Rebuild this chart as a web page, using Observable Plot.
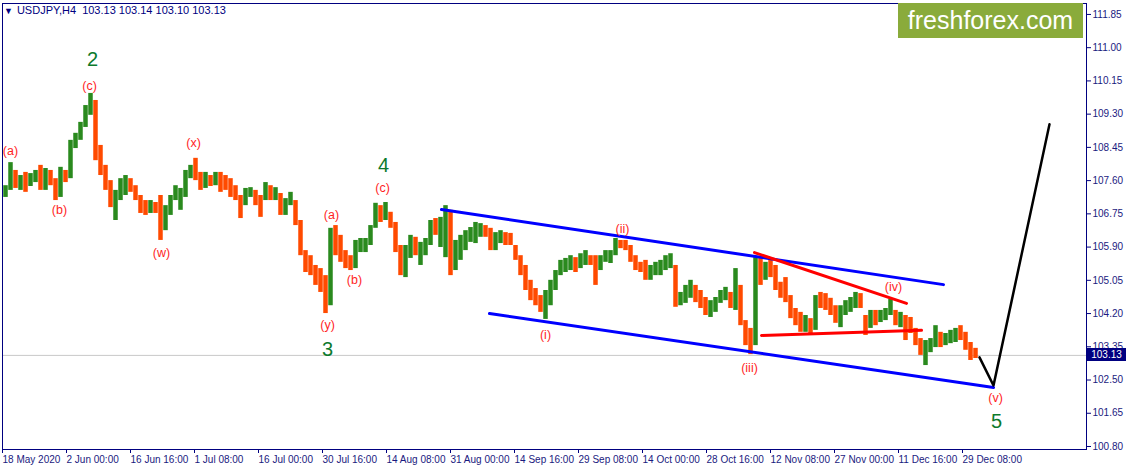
<!DOCTYPE html>
<html><head><meta charset="utf-8">
<script src="https://cdn.jsdelivr.net/npm/d3@7"></script>
<script src="https://cdn.jsdelivr.net/npm/@observablehq/plot@0.6"></script>
<style>
html,body{margin:0;padding:0;background:#fff;}
#wrap{position:relative;width:1126px;height:471px;overflow:hidden;font-family:"Liberation Sans",Arial,sans-serif;}
#hdr{position:absolute;left:4px;top:4px;font-size:11px;color:#000080;white-space:pre;}
#hdr .tri{font-size:9px;margin-right:4px;}
#logo{position:absolute;left:898px;top:3px;width:185px;height:35px;background:#8aab3b;color:#fff;font-size:25px;line-height:35px;text-align:center;}
#pbox{position:absolute;left:1087px;width:39px;height:13px;background:#000080;color:#fff;font-size:10px;line-height:13px;text-align:center;}
</style></head>
<body><div id="wrap"></div>
<script>
const symbolInfo = "USDJPY,H4  103.13 103.14 103.10 103.13";
const lastPrice = 103.13;
const firstOpen = 107.27;
const barsPerCandle = 5;
const highs = [107.47,108.06,107.86,107.73,107.81,107.78,107.86,107.99,107.91,107.86,107.65,107.94,107.86,108.63,108.81,109.09,109.52,109.83,109.65,108.50,107.99,107.60,107.35,107.65,107.73,107.65,107.47,107.22,107.09,107.09,107.04,107.22,106.96,107.22,107.47,107.40,107.86,107.99,108.17,107.81,107.81,107.73,107.81,107.81,107.73,107.65,107.47,107.22,107.40,107.42,107.35,107.22,107.55,107.47,107.42,107.27,107.14,107.30,107.09,106.58,105.81,105.68,105.43,105.35,105.17,106.38,106.45,106.20,105.81,105.68,106.07,106.12,106.12,106.45,107.02,106.96,107.04,106.79,106.53,105.94,105.94,106.20,106.15,106.02,106.12,106.58,106.63,106.66,106.96,106.84,106.07,106.20,106.32,106.40,106.53,106.50,106.45,106.38,106.27,106.32,106.27,106.25,105.94,105.68,105.43,105.05,104.84,104.66,104.79,105.05,105.30,105.56,105.61,105.68,105.63,105.73,105.81,105.68,105.68,105.68,105.81,105.81,106.12,106.07,106.07,105.94,105.68,105.51,105.56,105.43,105.51,105.56,105.68,105.73,105.43,104.74,104.92,105.05,104.92,104.79,104.61,104.53,104.61,104.79,104.87,104.74,105.35,104.92,104.02,103.82,105.63,105.61,105.51,105.56,105.43,105.00,105.12,104.66,104.33,104.23,104.15,104.07,104.66,104.74,104.71,104.59,104.40,104.40,104.53,104.61,104.74,104.71,104.15,104.28,104.28,104.28,104.33,104.56,104.28,104.23,104.15,104.10,103.82,103.56,103.51,103.56,103.89,103.72,103.69,103.77,103.82,103.89,103.72,103.46,103.31];
const lows = [107.17,107.35,107.40,107.35,107.30,107.45,107.55,107.35,107.35,107.47,107.09,107.17,107.55,107.65,108.42,108.63,108.96,109.27,108.11,107.73,107.35,106.91,106.58,107.09,107.22,107.30,107.09,106.76,106.71,106.76,106.76,106.07,106.32,106.71,107.09,106.84,107.17,107.65,107.60,107.35,107.40,107.45,107.47,107.30,107.35,107.17,107.09,106.63,106.96,107.17,106.96,106.66,107.09,107.09,107.09,106.71,106.71,106.96,106.45,105.68,105.25,105.17,104.92,104.74,104.20,104.40,105.68,105.51,105.35,105.30,105.35,105.76,105.76,105.94,106.38,106.53,106.58,106.38,105.76,105.17,105.12,105.61,105.68,105.43,105.68,105.94,106.20,105.89,105.63,105.17,105.30,105.56,105.81,106.02,105.99,106.15,106.15,105.81,105.81,105.99,105.94,105.94,105.56,105.17,104.79,104.53,104.40,104.23,104.05,104.40,104.79,105.17,105.25,105.30,105.25,105.35,105.43,105.43,104.92,105.30,105.51,105.48,105.68,105.86,105.81,105.51,105.30,105.25,105.05,105.05,105.17,105.17,105.30,105.35,104.36,104.40,104.46,104.59,104.48,104.33,104.15,104.10,104.23,104.46,104.53,104.33,104.28,103.89,103.38,103.15,103.38,104.92,105.05,105.12,104.79,104.59,104.48,104.07,103.89,103.72,103.72,103.69,103.77,104.33,104.28,104.15,103.95,103.84,104.15,104.23,104.33,104.33,103.64,103.82,103.89,103.97,104.02,104.15,103.89,103.84,103.51,103.69,103.38,103.13,102.87,103.20,103.33,103.33,103.38,103.43,103.46,103.51,103.26,103.00,103.05];
const closes = [107.42,107.73,107.55,107.60,107.45,107.71,107.73,107.47,107.81,107.60,107.22,107.81,107.65,108.50,108.63,109.01,109.39,109.60,108.37,107.91,107.47,107.09,107.12,107.55,107.60,107.40,107.22,106.96,106.84,106.96,106.84,106.45,106.71,107.14,107.27,107.30,107.78,107.86,107.73,107.47,107.65,107.60,107.65,107.55,107.52,107.35,107.22,106.96,107.30,107.35,107.09,107.06,107.40,107.30,107.35,106.84,107.09,107.17,106.58,105.81,105.43,105.30,105.05,104.92,104.40,106.20,105.94,105.68,105.61,105.51,105.94,106.02,106.07,106.32,106.84,106.71,106.84,106.53,105.94,105.43,105.81,106.07,105.81,105.86,106.02,106.45,106.32,106.53,106.79,105.56,105.81,106.07,106.20,106.27,106.32,106.38,106.32,105.94,106.12,106.20,106.12,106.07,105.68,105.30,104.92,104.66,104.59,104.33,104.66,104.92,105.17,105.43,105.51,105.56,105.43,105.61,105.68,105.56,105.51,105.61,105.68,105.76,106.02,105.94,105.89,105.61,105.43,105.40,105.30,105.35,105.43,105.51,105.54,105.61,104.53,104.59,104.79,104.84,104.66,104.53,104.28,104.40,104.48,104.66,104.74,104.53,104.79,104.02,103.56,103.38,105.51,105.30,105.35,105.30,104.92,104.74,104.59,104.23,104.07,103.89,103.97,103.82,104.53,104.50,104.40,104.28,104.07,104.15,104.40,104.53,104.56,104.40,103.89,104.15,104.02,104.15,104.23,104.40,104.02,104.07,104.02,103.82,103.51,103.26,103.38,103.51,103.64,103.51,103.56,103.61,103.72,103.64,103.38,103.20,103.13];

const xTickBars = [0,64,128,192,256,320,384,448,512,576,640,704,768,832,896,960];
const xTickLabels = ["18 May 2020","2 Jun 00:00","16 Jun 16:00","1 Jul 08:00","16 Jul 00:00","30 Jul 16:00","14 Aug 08:00","31 Aug 00:00","14 Sep 16:00","29 Sep 08:00","14 Oct 00:00","28 Oct 16:00","12 Nov 08:00","27 Nov 00:00","11 Dec 16:00","29 Dec 08:00"];
const yTicks = [100.80,101.65,102.50,103.35,104.20,105.05,105.90,106.75,107.60,108.45,109.30,110.15,111.00,111.85];

const channelUpper = [{bar:439, price:106.86},{bar:941, price:104.94}];
const channelLower = [{bar:487, price:104.20},{bar:991, price:102.31}];
const triangleUpper = [{bar:752, price:105.76},{bar:904, price:104.46}];
const triangleLower = [{bar:759, price:103.64},{bar:919, price:103.77}];
const projection = [{bar:977, price:103.08},{bar:991, price:102.36},{bar:1047, price:109.04}];

const minorLabels = [
  {bar:8, price:108.35, text:"(a)"},{bar:57, price:106.84, text:"(b)"},{bar:87, price:110.03, text:"(c)"},
  {bar:159, price:105.74, text:"(w)"},{bar:191, price:108.55, text:"(x)"},{bar:325, price:103.92, text:"(y)"},
  {bar:329, price:106.73, text:"(a)"},{bar:352, price:105.07, text:"(b)"},{bar:380, price:107.42, text:"(c)"},
  {bar:543, price:103.66, text:"(i)"},{bar:620, price:106.35, text:"(ii)"},{bar:747, price:102.82, text:"(iii)"},
  {bar:891, price:104.87, text:"(iv)"},{bar:993, price:102.03, text:"(v)"}
];
const majorLabels = [
  {bar:90, price:110.70, text:"2"},{bar:325, price:103.28, text:"3"},
  {bar:381, price:107.99, text:"4"},{bar:994, price:101.44, text:"5"}
];

const candles = highs.map((h, i) => ({
  bar: barsPerCandle * i + 3,
  high: h, low: lows[i],
  open: i ? closes[i - 1] : firstOpen,
  close: closes[i]
}));
const candleColor = d => d.close > d.open ? "#2a8a1e" : d.close < d.open ? "#ff4a00" : "#000000";

const chart = Plot.plot({
  width: 1126, height: 471,
  marginLeft: 2, marginRight: 40, marginTop: 3, marginBottom: 22,
  style: {fontFamily: "'Liberation Sans', Arial, sans-serif", fontSize: "10px", color: "#1a1a80", background: "#fff"},
  x: {domain: [0, 1084], label: null},
  y: {domain: [100.723, 112.13], label: null},
  marks: [
    Plot.ruleY([lastPrice], {stroke: "#c8c8c8", strokeWidth: 1}),
    Plot.ruleX(candles, {x: "bar", y1: "low", y2: "high", stroke: candleColor, strokeWidth: 4.5}),
    Plot.line(channelUpper, {x: "bar", y: "price", stroke: "#0000ff", strokeWidth: 3}),
    Plot.line(channelLower, {x: "bar", y: "price", stroke: "#0000ff", strokeWidth: 3}),
    Plot.line(triangleUpper, {x: "bar", y: "price", stroke: "#ff0000", strokeWidth: 3}),
    Plot.line(triangleLower, {x: "bar", y: "price", stroke: "#ff0000", strokeWidth: 3}),
    Plot.line(projection, {x: "bar", y: "price", stroke: "#000000", strokeWidth: 2.5}),
    Plot.text(minorLabels, {x: "bar", y: "price", text: "text", fill: "#ff1f1f", fontSize: 12.5}),
    Plot.text(majorLabels, {x: "bar", y: "price", text: "text", fill: "#0c7a2c", fontSize: 20}),
    Plot.axisX({ticks: xTickBars, tickFormat: d => xTickLabels[xTickBars.indexOf(d)], tickSize: 4, tickPadding: 2, textAnchor: "start", label: null, stroke: "#000080", fill: "#1a1a80"}),
    Plot.axisY({anchor: "right", ticks: yTicks, tickFormat: d => d.toFixed(2), tickSize: 4, tickPadding: 2, label: null, stroke: "#000080", fill: "#1a1a80"}),
    Plot.frame({stroke: "#000080"})
  ]
});
const wrap = document.getElementById("wrap");
wrap.appendChild(chart);
const hdr = document.createElement("div");
hdr.id = "hdr";
hdr.innerHTML = '<span class="tri">▼</span>' + symbolInfo;
wrap.appendChild(hdr);
const logo = document.createElement("div");
logo.id = "logo"; logo.textContent = "freshforex.com";
wrap.appendChild(logo);
const pbox = document.createElement("div");
pbox.id = "pbox"; pbox.textContent = lastPrice.toFixed(2);
pbox.style.top = (chart.scale("y").apply(lastPrice) - 6.5) + "px";
wrap.appendChild(pbox);
</script></body></html>
